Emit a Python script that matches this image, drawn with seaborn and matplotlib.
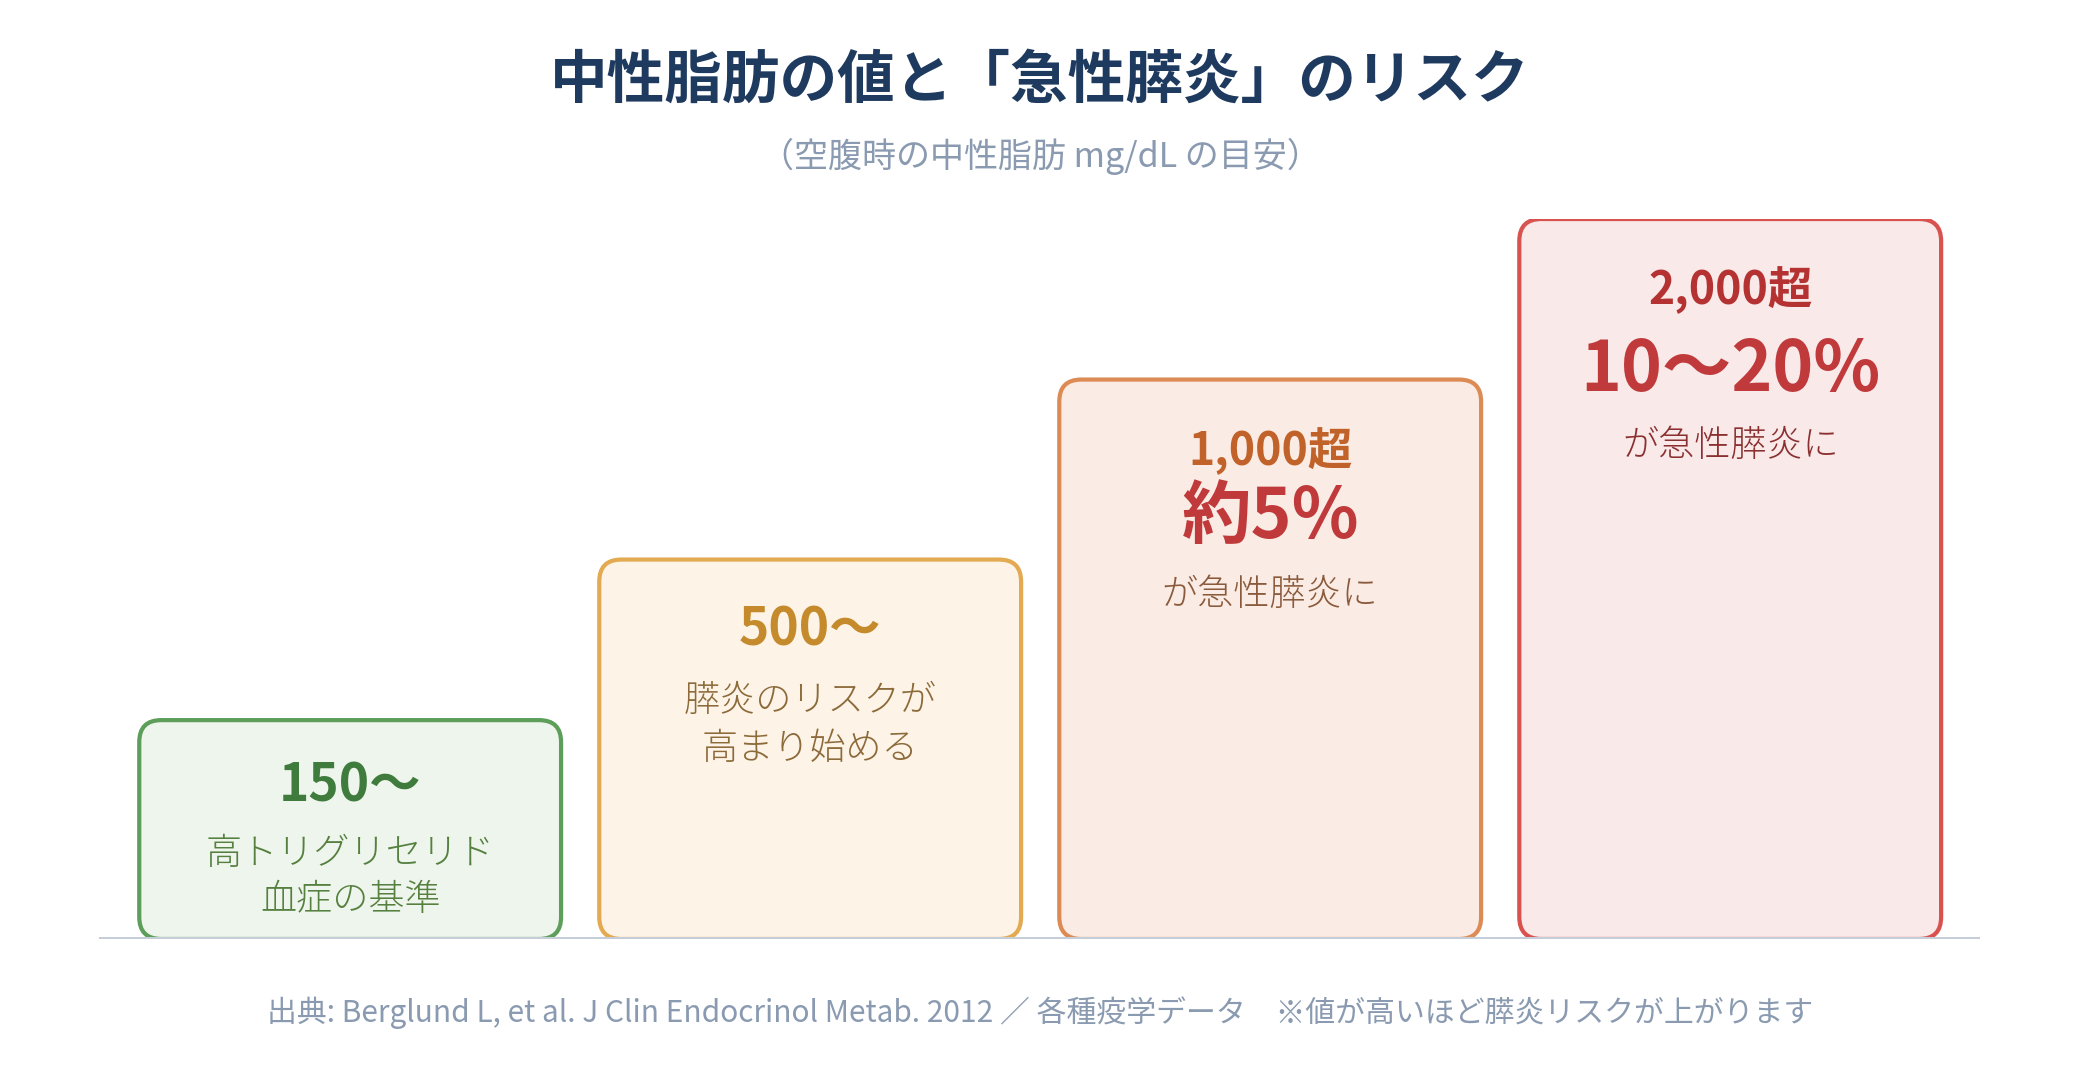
import matplotlib
matplotlib.use("Agg")
import matplotlib.pyplot as plt
import seaborn as sns
from matplotlib.patches import FancyBboxPatch

# ---- data ----
categories = ["150〜", "500〜", "1,000超", "2,000超"]
bar_levels = [30.4, 52.7, 77.7, 100.0]
headlines = ["", "", "約5%", "10〜20%"]
desc_lines = [["高トリグリセリド", "血症の基準"],
              ["膵炎のリスクが", "高まり始める"],
              ["が急性膵炎に"],
              ["が急性膵炎に"]]
title = "中性脂肪の値と「急性膵炎」のリスク"
subtitle = "（空腹時の中性脂肪 mg/dL の目安）"
footer = "出典: Berglund L, et al. J Clin Endocrinol Metab. 2012 ／ 各種疫学データ　※値が高いほど膵炎リスクが上がります"

# ---- styles ----
edge_colors = ["#5c9e5a", "#e3aa52", "#dd8b55", "#d8524f"]
fill_colors = ["#eef5ec", "#fdf4e7", "#faece4", "#f9e9e8"]
label_colors = ["#3f7b3c", "#c48a2c", "#c0622a", "#b53233"]
head_colors = ["#c0393b", "#c0393b", "#c0393b", "#c0393b"]
desc_colors = ["#56803f", "#8c6a3a", "#8a5a3c", "#8b3030"]
# offsets (px from box top) for label, headline, desc lines
label_off = [66, 70, 72, 71]
head_off = [None, None, 138, 152]
desc_off = [[134, 180], [141, 189], [215], [227]]

sns.set_theme(style="white")
plt.rcParams["font.family"] = ["Noto Sans CJK JP", "DejaVu Sans"]

DPI = 100
W, H = 2080, 1080
fig = plt.figure(figsize=(W / DPI, H / DPI), dpi=DPI)
fig.patch.set_facecolor("white")

ax_left, ax_right = 99, 1980
base_y, top_y = 939, 219
ax = fig.add_axes([ax_left / W, (H - base_y) / H, (ax_right - ax_left) / W, (base_y - top_y) / H])

sns.barplot(x=categories, y=bar_levels, ax=ax, width=0.917, color="white")
ax.set_xlim(-0.546, 3.543)
ax.set_ylim(0, 100)
ax.axis("off")

# unit conversion
xupp = (ax.get_xlim()[1] - ax.get_xlim()[0]) / (ax_right - ax_left)
yupp = 100 / (base_y - top_y)
aspect = yupp / xupp
radius_px = 22

pt_per_px = 72 / DPI

for i, p in enumerate(list(ax.patches)):
    x0, w = p.get_x(), p.get_width()
    h = p.get_height()
    p.set_visible(False)
    box = FancyBboxPatch((x0, 0), w, h,
                         boxstyle=f"round,pad=0,rounding_size={radius_px * xupp}",
                         mutation_aspect=aspect,
                         facecolor=fill_colors[i], edgecolor=edge_colors[i],
                         linewidth=4.2 * pt_per_px, zorder=2)
    ax.add_patch(box)
    cx = x0 + w / 2
    ax.annotate(categories[i], xy=(cx, h), xytext=(0, -label_off[i] * pt_per_px),
                textcoords="offset points", ha="center", va="center",
                fontsize=37 if i < 2 else 32, fontweight="bold",
                color=label_colors[i], zorder=3, annotation_clip=False)
    if headlines[i]:
        ax.annotate(headlines[i], xy=(cx, h), xytext=(0, -head_off[i] * pt_per_px),
                    textcoords="offset points", ha="center", va="center",
                    fontsize=50, fontweight="bold",
                    color=head_colors[i], zorder=3, annotation_clip=False)
    for line, off in zip(desc_lines[i], desc_off[i]):
        ax.annotate(line, xy=(cx, h), xytext=(0, -off * pt_per_px),
                    textcoords="offset points", ha="center", va="center",
                    fontsize=26, fontweight="light",
                    color=desc_colors[i], zorder=3, annotation_clip=False)

ax.axhline(0, color="#c5cdd8", linewidth=4 * pt_per_px, zorder=4)

fig.text(0.5, 1 - 81 / H, title, ha="center", va="center",
         fontsize=41.5, fontweight="bold", color="#1f3a5f")
fig.text(0.5, 1 - 156 / H, subtitle, ha="center", va="center",
         fontsize=24.5, color="#8a9ab0")
fig.text(0.5, 1 - 1013 / H, footer, ha="center", va="center",
         fontsize=21.5, color="#8a9ab0")

fig.savefig("out.png", dpi=DPI, facecolor="white")
